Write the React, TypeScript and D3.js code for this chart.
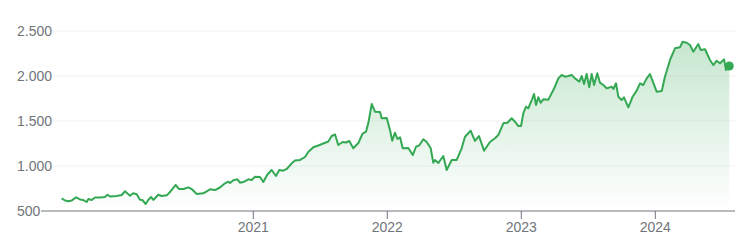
import React from "react";
import * as d3 from "d3";

// Time in fractional years
const dates: number[] = [
  2019.570, 2019.595, 2019.619, 2019.645, 2019.677, 2019.707, 2019.731, 2019.757, 2019.769, 2019.794,
  2019.819, 2019.856, 2019.893, 2019.913, 2019.931, 2019.981, 2020.018, 2020.043, 2020.080, 2020.104,
  2020.130, 2020.154, 2020.172, 2020.197, 2020.216, 2020.237, 2020.254, 2020.291, 2020.316, 2020.354,
  2020.378, 2020.421, 2020.446, 2020.478, 2020.515, 2020.540, 2020.578, 2020.627, 2020.677, 2020.714,
  2020.751, 2020.789, 2020.813, 2020.826, 2020.851, 2020.881, 2020.901, 2020.925, 2020.963, 2020.988,
  2021.013, 2021.050, 2021.075, 2021.104, 2021.137, 2021.169, 2021.194, 2021.224, 2021.249, 2021.287,
  2021.311, 2021.349, 2021.386, 2021.410, 2021.448, 2021.485, 2021.522, 2021.560, 2021.585, 2021.610,
  2021.634, 2021.667, 2021.692, 2021.716, 2021.746, 2021.784, 2021.816, 2021.841, 2021.858, 2021.884,
  2021.908, 2021.946, 2021.958, 2021.996, 2022.020, 2022.037, 2022.057, 2022.075, 2022.095, 2022.115,
  2022.157, 2022.190, 2022.214, 2022.239, 2022.269, 2022.294, 2022.324, 2022.343, 2022.356, 2022.381,
  2022.418, 2022.443, 2022.481, 2022.518, 2022.555, 2022.580, 2022.622, 2022.654, 2022.684, 2022.722,
  2022.766, 2022.804, 2022.828, 2022.866, 2022.896, 2022.928, 2022.953, 2022.978, 2022.998, 2023.015,
  2023.035, 2023.052, 2023.078, 2023.095, 2023.110, 2023.127, 2023.145, 2023.164, 2023.201, 2023.239,
  2023.251, 2023.276, 2023.301, 2023.326, 2023.351, 2023.376, 2023.401, 2023.433, 2023.451, 2023.468,
  2023.488, 2023.507, 2023.525, 2023.543, 2023.567, 2023.587, 2023.612, 2023.637, 2023.675, 2023.687,
  2023.707, 2023.724, 2023.749, 2023.766, 2023.799, 2023.831, 2023.861, 2023.886, 2023.910, 2023.936,
  2023.960, 2023.985, 2024.010, 2024.048, 2024.072, 2024.110, 2024.147, 2024.184, 2024.204, 2024.234,
  2024.259, 2024.284, 2024.321, 2024.339, 2024.371, 2024.408, 2024.433, 2024.458, 2024.483, 2024.513,
  2024.528, 2024.552,
];

const prices: number[] = [
  641, 617, 608, 617, 652, 628, 622, 600, 633, 622,
  650, 650, 656, 681, 661, 667, 678, 719, 670, 697,
  686, 626, 622, 578, 622, 656, 622, 681, 667, 674,
  711, 789, 744, 744, 763, 744, 689, 697, 741, 733,
  761, 808, 826, 811, 841, 852, 814, 822, 852, 844,
  881, 878, 822, 903, 956, 889, 956, 948, 967, 1030,
  1061, 1067, 1100, 1156, 1208, 1228, 1250, 1272, 1333, 1350,
  1233, 1267, 1261, 1278, 1197, 1255, 1361, 1381, 1474, 1689,
  1603, 1600, 1530, 1533, 1400, 1281, 1370, 1300, 1319, 1197,
  1200, 1122, 1214, 1230, 1297, 1267, 1197, 1037, 1067, 1033,
  1111, 956, 1067, 1067, 1197, 1325, 1392, 1278, 1333, 1170,
  1267, 1308, 1344, 1474, 1481, 1530, 1492, 1444, 1444, 1585,
  1659, 1641, 1733, 1800, 1678, 1763, 1703, 1741, 1735, 1844,
  1881, 1974, 2011, 1992, 2000, 2011, 1974, 1937, 2000, 1911,
  2022, 1874, 2022, 1900, 2030, 1926, 1900, 1863, 1881, 1856,
  1919, 1770, 1733, 1763, 1652, 1770, 1837, 1919, 1900, 1974,
  2022, 1926, 1826, 1833, 1992, 2178, 2308, 2319, 2381, 2370,
  2344, 2270, 2355, 2289, 2297, 2178, 2122, 2170, 2141, 2185,
  2067, 2111,
];

const yTicks: number[] = [500, 1000, 1500, 2000, 2500];
const xTicks: number[] = [2021, 2022, 2023, 2024];

const W = 755;
const H = 250;
const GREEN = "#34a853";
const LABEL = "#70757a";
const FONT = "'Liberation Sans', Arial, sans-serif";

const fmtY = (v: number) => d3.format(",")(v).replace(/,/g, ".");

export default function App() {
  const x = d3.scaleLinear().domain([2021, 2024]).range([253.3, 655.3]);
  const y = d3.scaleLinear().domain([500, 2500]).range([211, 31]);

  const data = dates.map((d, i) => ({ t: d, v: prices[i] }));
  const line = d3
    .line<{ t: number; v: number }>()
    .x((d) => x(d.t))
    .y((d) => y(d.v));
  const area = d3
    .area<{ t: number; v: number }>()
    .x((d) => x(d.t))
    .y0(y(500))
    .y1((d) => y(d.v));

  const last = data[data.length - 1];
  const maxV = d3.max(prices) as number;

  return (
    <svg
      width={W}
      height={H}
      style={{ position: "absolute", left: 0, top: 0, background: "#fff" }}
      fontFamily={FONT}
    >
      <defs>
        <linearGradient
          id="areaGrad"
          gradientUnits="userSpaceOnUse"
          x1={0}
          x2={0}
          y1={y(maxV)}
          y2={y(500)}
        >
          <stop offset="0%" stopColor={GREEN} stopOpacity={0.28} />
          <stop offset="100%" stopColor={GREEN} stopOpacity={0.0} />
        </linearGradient>
      </defs>

      {yTicks.slice(1).map((t) => (
        <line
          key={"g" + t}
          x1={53}
          x2={735}
          y1={y(t)}
          y2={y(t)}
          stroke="#f1f1f1"
          strokeWidth={1}
        />
      ))}

      <path d={area(data) || ""} fill="url(#areaGrad)" />
      <path
        d={line(data) || ""}
        fill="none"
        stroke={GREEN}
        strokeWidth={2}
        strokeLinejoin="round"
      />
      <circle cx={x(last.t)} cy={y(last.v)} r={4.5} fill={GREEN} />

      <line x1={41} x2={735} y1={y(500)} y2={y(500)} stroke={LABEL} strokeWidth={1} />
      {xTicks.map((t) => (
        <g key={"x" + t}>
          <line x1={x(t)} x2={x(t)} y1={y(500)} y2={y(500) + 8} stroke={LABEL} strokeWidth={1} />
          <text
            x={x(t)}
            y={231.5}
            textAnchor="middle"
            fontSize={14}
            fill={LABEL}
          >
            {d3.format("d")(t)}
          </text>
        </g>
      ))}

      {yTicks.map((t) => (
        <text
          key={"y" + t}
          x={17}
          y={y(t) + 5}
          fontSize={14}
          fill={LABEL}
        >
          {fmtY(t)}
        </text>
      ))}
    </svg>
  );
}
